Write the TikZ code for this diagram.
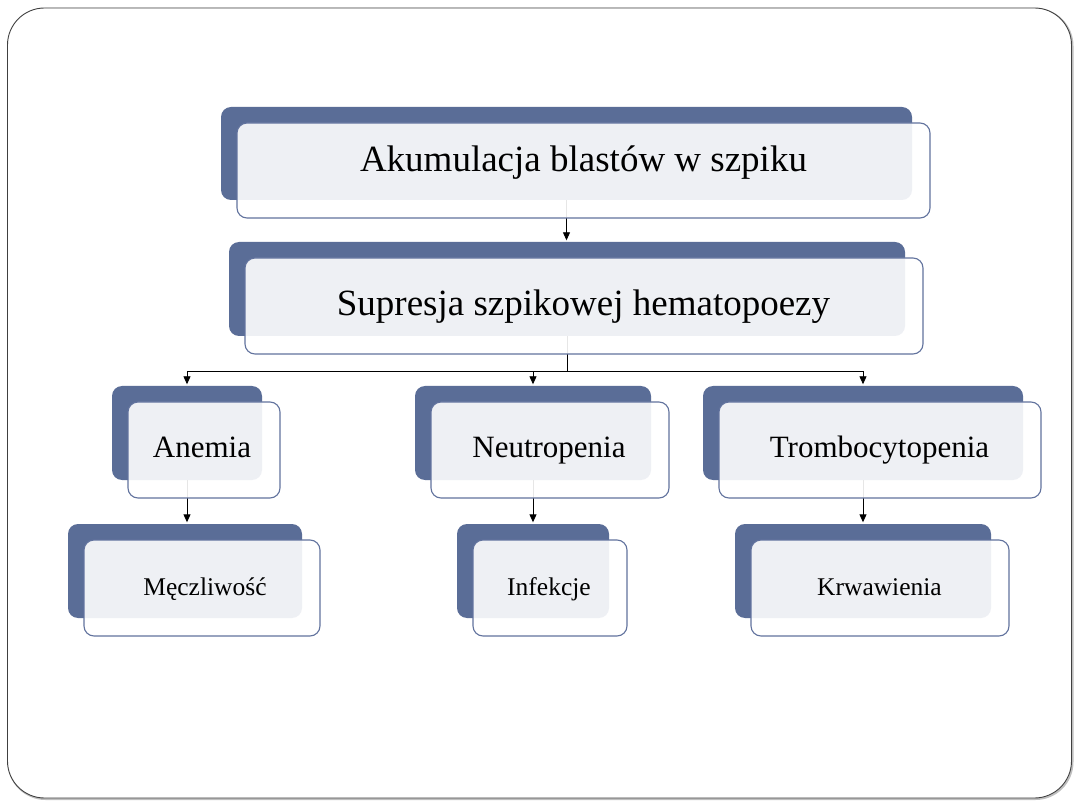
\documentclass[tikz,border=0pt]{standalone}
\usepackage{fontspec}
\setmainfont{Liberation Serif}
\usetikzlibrary{arrows.meta}
\definecolor{backblue}{RGB}{90,109,151}
\definecolor{edgeblue}{RGB}{98,115,158}
\tikzset{
  backbox/.style={draw=none, fill=backblue, rounded corners=10pt, inner sep=0pt, shape=rectangle},
  frontbox/.style={draw=edgeblue, line width=1.1pt, fill=white, fill opacity=0.9, rounded corners=10pt, inner sep=0pt, shape=rectangle},
  lbl/.style={anchor=base, inner sep=0pt, text=black},
  conn/.style={draw=black, line width=0.9pt},
  arr/.style={conn, -{Triangle[length=8pt,width=7pt]}, shorten >=1.5pt},
  bigfont/.style={font=\fontsize{37}{40}\selectfont},
  midfont/.style={font=\fontsize{31}{34}\selectfont},
  smallfont/.style={font=\fontsize{25.5}{28}\selectfont}
}
% \cardback{name}{x1}{y1}{x2}{y2}
\newcommand{\cardback}[5]{%
  \node[backbox, minimum width={(#4-#2)*1pt}, minimum height={(#5-#3)*1pt}] (b#1) at ({(#2+#4)/2},{(#3+#5)/2}) {};}
\newcommand{\cardfront}[5]{%
  \node[frontbox, minimum width={(#4-#2+2)*1pt}, minimum height={(#5-#3+2)*1pt}] (f#1) at ({(#2+#4)/2+17},{(#3+#5)/2+17}) {};}
\begin{document}
\begin{tikzpicture}[x=1pt,y=-1pt]
\useasboundingbox (0,0) rectangle (1080,810);
% outer frame
\node[draw=black!25, line width=2pt, rounded corners=37pt, minimum width=1064pt, minimum height=790pt, inner sep=0pt] (shadow) at (540.5,404) {};
\node[draw=black!75, line width=0.9pt, fill=white, rounded corners=37pt, minimum width=1064pt, minimum height=790pt, inner sep=0pt] (frame) at (539.5,403) {};
% back boxes
\cardback{1}{221}{107}{912}{200}
\cardback{2}{229}{242}{905}{336}
\cardback{3}{112}{386}{262}{480}
\cardback{4}{415}{386}{651}{480}
\cardback{5}{703}{386}{1023}{480}
\cardback{6}{68}{524}{302}{618}
\cardback{7}{457}{524}{609}{618}
\cardback{8}{735}{524}{991}{618}
% connectors
\coordinate (fork) at (b2.south |- 0,371);
\draw[arr] (b1.south) -- (b1.south |- b2.north);
\draw[conn] (b2.south) -- (fork);
\draw[arr] (fork) -| (b3.north);
\draw[arr] (fork) -| (b4.north);
\draw[arr] (fork) -| (b5.north);
\draw[arr] (b3.south) -- (b3.south |- b6.north);
\draw[arr] (b4.south) -- (b4.south |- b7.north);
\draw[arr] (b5.south) -- (b5.south |- b8.north);
% front boxes
\cardfront{1}{221}{107}{912}{200}
\cardfront{2}{229}{242}{905}{336}
\cardfront{3}{112}{386}{262}{480}
\cardfront{4}{415}{386}{651}{480}
\cardfront{5}{703}{386}{1023}{480}
\cardfront{6}{68}{524}{302}{618}
\cardfront{7}{457}{524}{609}{618}
\cardfront{8}{735}{524}{991}{618}
% labels
\node[lbl, bigfont] (t1) at (583.5,172) {Akumulacja blastów w szpiku};
\node[lbl, bigfont] (t2) at (583.5,316) {Supresja szpikowej hematopoezy};
\node[lbl, midfont] (t3) at (202,457) {Anemia};
\node[lbl, midfont] (t4) at (549,457) {Neutropenia};
\node[lbl, midfont] (t5) at (879.5,457) {Trombocytopenia};
\node[lbl, smallfont] (t6) at (205,595) {Męczliwość};
\node[lbl, smallfont] (t7) at (549,595) {Infekcje};
\node[lbl, smallfont] (t8) at (879.5,595) {Krwawienia};
\end{tikzpicture}
\end{document}
